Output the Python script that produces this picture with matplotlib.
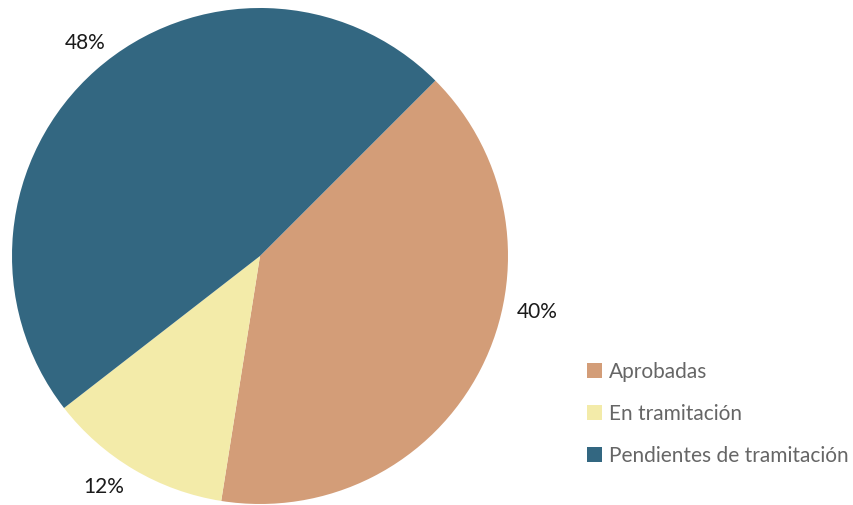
import matplotlib.pyplot as plt
import numpy as np

plt.rcParams['font.family'] = ['Lato', 'DejaVu Sans']

labels = ["Aprobadas", "En tramitación", "Pendientes de tramitación"]
values = [40, 12, 48]
colors = ["#D39D78", "#F3EBA9", "#336781"]

fig = plt.figure(figsize=(8.54, 5.05), dpi=100)
# pie centre at (260, 256) px, radius 248 px
ax = fig.add_axes([12 / 854, 1 / 505, 496 / 854, 496 / 505])

wedges, texts, autotexts = ax.pie(
    values, colors=colors, startangle=45, counterclock=False,
    autopct="%d%%", pctdistance=1.12, radius=1,
    textprops=dict(fontsize=15, color="#1a1a1a"),
    wedgeprops=dict(linewidth=0))

# labels are not exactly at mid-angle in the original
label_pos = [(-11.4, 1.14), (-124, 1.125), (129.4, 1.11)]
for t, (a, r) in zip(autotexts, label_pos):
    a = np.deg2rad(a)
    t.set_position((r * np.cos(a), r * np.sin(a)))

ax.set_xlim(-1, 1)
ax.set_ylim(-1, 1)
ax.set_aspect("equal")
ax.axis("off")

fig.legend(wedges, labels, loc="upper left",
           bbox_to_anchor=(587 / 854, 1 - 362 / 505),
           frameon=False, fontsize=15, labelcolor="#666666",
           handlelength=0.72, handleheight=0.72, handletextpad=0.35,
           labelspacing=1.06, borderpad=0, borderaxespad=0)

fig.savefig("out.png", dpi=100)
